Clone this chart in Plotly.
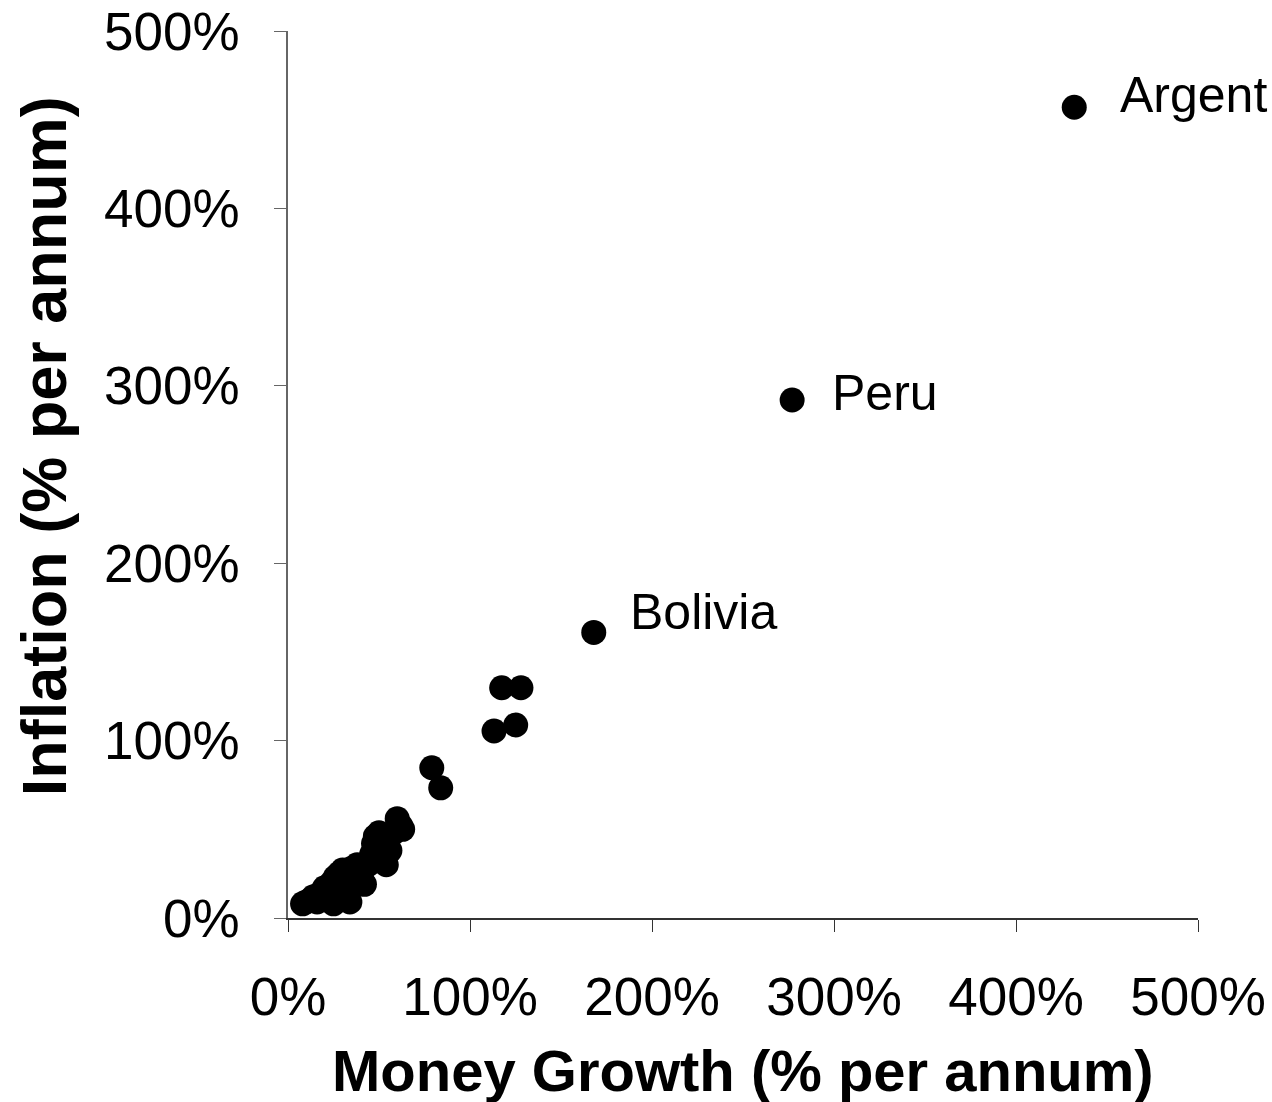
import plotly.graph_objects as go

# Money growth (% per annum) and inflation (% per annum)
money_growth = [432, 277, 168, 117.4, 128, 113.2, 125.1, 79, 83.9,
                8, 10, 12, 14, 16, 18, 20, 22, 24, 25, 26, 28, 30, 32, 33, 34,
                35, 36, 38, 40, 42, 44, 46, 47, 48, 50, 52, 54, 55, 56, 58, 60, 62, 63, 49.5, 40.7]
inflation = [457, 292, 161, 129.8, 129.8, 105.4, 108.8, 84.7, 73.4,
             8, 9, 10, 12, 9, 14, 17, 10, 20, 8, 23, 25, 27, 12, 20, 9,
             28, 24, 30, 22, 19, 30, 36, 42, 46, 48, 40, 30, 45, 38, 48, 56, 52, 50, 46.8, 21.4]

labels = ["Argent", "Peru", "Bolivia"]
label_x = [432, 277, 168]
label_y = [457, 292, 161]
label_shift = [(44, 12), (38, 7), (34, 20)]

tick_vals = [0, 100, 200, 300, 400, 500]
tick_text = ["0%", "100%", "200%", "300%", "400%", "500%"]

fig = go.Figure()
fig.add_trace(go.Scatter(
    x=[v / 100 for v in money_growth], y=[v / 100 for v in inflation],
    mode="markers", marker=dict(color="black", size=25, line=dict(width=0)),
    cliponaxis=False, showlegend=False))

font = "Liberation Sans, Arial, sans-serif"
for t, xv, yv, (dx, dy) in zip(labels, label_x, label_y, label_shift):
    fig.add_annotation(x=xv / 100, y=yv / 100, text=t, showarrow=False,
                       xanchor="left", yanchor="middle", xshift=dx, yshift=dy,
                       font=dict(family=font, size=50, color="black"))

fig.add_annotation(xref="paper", yref="paper", x=0.5, y=-0.172, yanchor="middle",
                   text="<b>Money Growth (% per annum)</b>", showarrow=False,
                   font=dict(family=font, size=58, color="black"))
fig.add_annotation(xref="paper", yref="paper", x=-0.268, y=0.532, xanchor="center",
                   yanchor="middle",
                   text="<b>Inflation (% per annum)</b>", showarrow=False, textangle=-90,
                   font=dict(family=font, size=63, color="black"))

axis_common = dict(showgrid=False, zeroline=False, showline=True, linewidth=1.5,
                   ticks="outside", ticklen=12, automargin=False,
                   tickfont=dict(family=font, size=53, color="black"))
fig.update_xaxes(range=[0, 5], tickvals=[v / 100 for v in tick_vals], ticktext=tick_text,
                 ticklabelstandoff=20, linecolor="#333", tickcolor="#333", **axis_common)
fig.update_yaxes(range=[0, 5], tickvals=[v / 100 for v in tick_vals], ticktext=tick_text,
                 ticklabelstandoff=24, linecolor="#666", tickcolor="#666", **axis_common)

fig.update_layout(width=1272, height=1102, plot_bgcolor="white", paper_bgcolor="white",
                  margin=dict(l=288, r=74, t=31, b=184, autoexpand=False))
fig.write_html("out.html", config={"displayModeBar": False},
               post_script="document.body.style.margin='0';document.body.style.overflow='hidden';")
